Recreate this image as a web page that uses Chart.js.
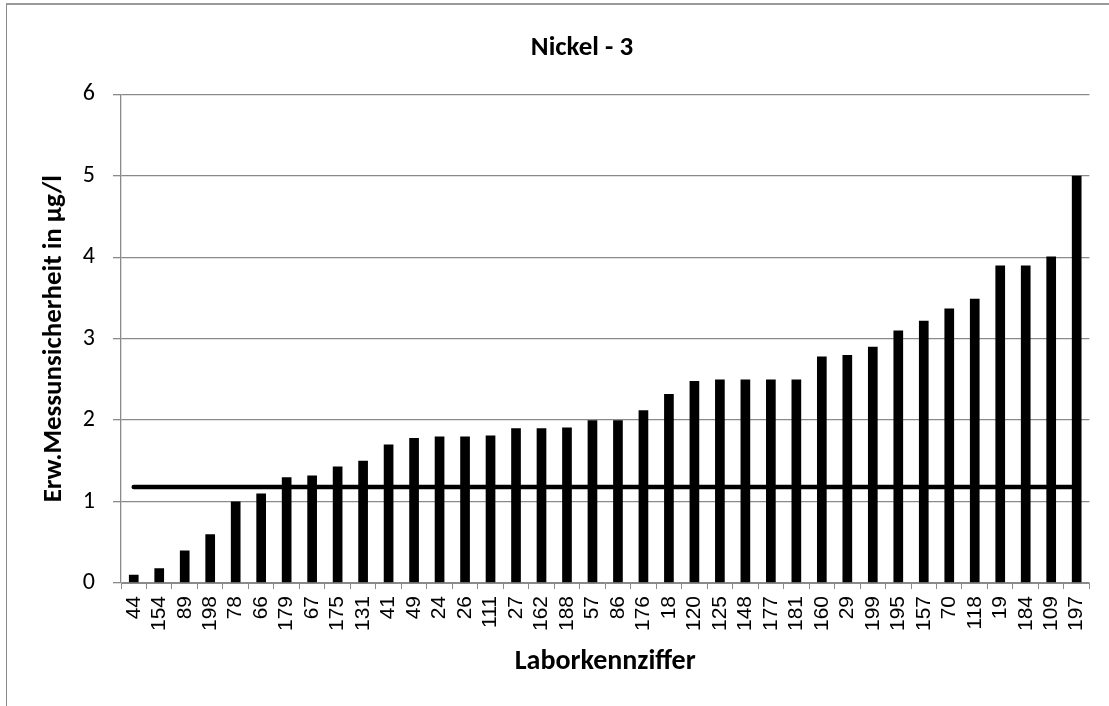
<!DOCTYPE html>
<html>
<head>
<meta charset="utf-8">
<script src="https://cdn.jsdelivr.net/npm/chart.js@4.4.1/dist/chart.umd.min.js"></script>
<style>
    html, body { margin: 0; padding: 0; background: #fff; }
    #frame {
        position: absolute; left: 6px; top: 3px; width: 1200px; height: 800px;
        border-top: 2px solid #9a9a9a; border-left: 1px solid #8a8a8a;
    }
    #chart { position: absolute; left: 0; top: 0; }
</style>
</head>
<body>
<div id="frame"></div>
<canvas id="chart" width="1109" height="706"></canvas>
<script>
// ==============================================================
// Nickel - 3 : Erw. Messunsicherheit je Labor
// ==============================================================
var labs = ['44', '154', '89', '198', '78', '66', '179', '67', '175', '131', '41', '49', '24',
    '26', '111', '27', '162', '188', '57', '86', '176', '18', '120', '125', '148', '177', '181',
    '160', '29', '199', '195', '157', '70', '118', '19', '184', '109', '197'];
var uncertainty = [0.1, 0.18, 0.4, 0.6, 1.0, 1.1, 1.3, 1.32, 1.43, 1.5, 1.7, 1.78, 1.8,
    1.8, 1.81, 1.9, 1.9, 1.91, 2.0, 2.0, 2.12, 2.32, 2.48, 2.5, 2.5, 2.5, 2.5,
    2.78, 2.8, 2.9, 3.1, 3.22, 3.37, 3.49, 3.9, 3.9, 4.01, 5.0];
var refLevel = 1.18;
var yTicks = [0, 1, 2, 3, 4, 5, 6];

var cal = "Carlito, Lato, 'Open Sans', sans-serif";
var gridGray = '#8a8a8a';

// the title sits right of the canvas centre, so the layout is shifted left-padded
var padLeft = 64;

new Chart(document.getElementById('chart'), {
    type: 'bar',
    data: {
        labels: labs,
        datasets: [{
            type: 'line',
            label: 'Referenz',
            data: labs.map(function () { return refLevel; }),
            borderColor: '#000',
            borderWidth: 4.5,
            borderCapStyle: 'round',
            pointRadius: 0,
            fill: false
        }, {
            label: 'Erw.Messunsicherheit',
            data: uncertainty,
            backgroundColor: '#000',
            barPercentage: 0.38,
            categoryPercentage: 1
        }]
    },
    options: {
        responsive: false,
        animation: false,
        layout: {
            padding: { left: padLeft, right: 9, top: 0, bottom: 0 }
        },
        plugins: {
            legend: { display: false },
            tooltip: { enabled: false },
            title: {
                display: true,
                text: 'Nickel - 3',
                color: '#000',
                font: { family: cal, size: 27, weight: 'bold' },
                padding: { top: 32, bottom: 30 }
            }
        },
        scales: {
            x: {
                grid: {
                    offset: true,
                    drawOnChartArea: false,
                    color: gridGray,
                    tickLength: 6
                },
                border: { color: gridGray, width: 1 },
                ticks: {
                    color: '#000',
                    font: { family: "'Liberation Sans', Arial, sans-serif", size: 21 },
                    minRotation: 90,
                    maxRotation: 90,
                    autoSkip: false,
                    padding: 7
                },
                title: {
                    display: true,
                    text: 'Laborkennziffer',
                    color: '#000',
                    font: { family: cal, size: 28, weight: 'bold' },
                    padding: { top: 0, bottom: 27 }
                },
                afterFit: function (scale) { scale.height = 123; }
            },
            y: {
                min: 0,
                max: 6,
                afterBuildTicks: function (scale) {
                    scale.ticks = yTicks.map(function (v) { return { value: v }; });
                },
                grid: { color: gridGray, tickLength: 8, lineWidth: 1.3 },
                border: { color: gridGray, width: 1.3 },
                ticks: {
                    color: '#000',
                    font: { family: cal, size: 24 },
                    padding: 18
                },
                title: {
                    display: true,
                    text: 'Erw.Messunsicherheit in µg/l',
                    color: '#000',
                    font: { family: cal, size: 27, weight: 'bold' },
                    padding: { top: 38 - padLeft, bottom: 0 }
                },
                afterFit: function (scale) { scale.width = 121 - padLeft; }
            }
        }
    }
});
</script>
</body>
</html>
